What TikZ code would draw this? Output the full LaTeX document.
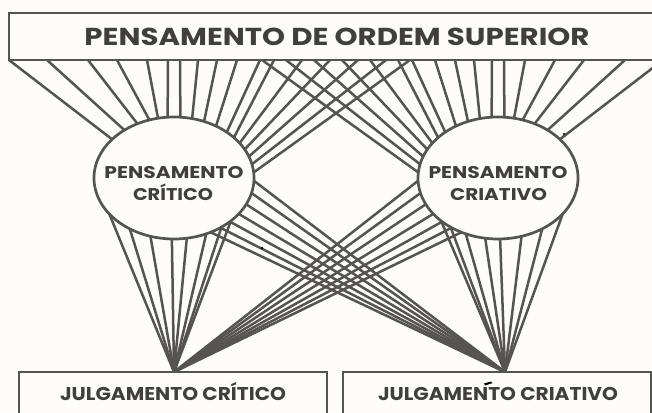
\documentclass[tikz,border=0pt]{standalone}
\usepackage{fontspec}
\setmainfont{Poppins}
\usepackage{graphicx}
\usetikzlibrary{shapes.geometric}
\pgfdeclarelayer{bgl}
\pgfdeclarelayer{wires}
\pgfsetlayers{bgl,wires,main}
\definecolor{ink}{HTML}{575352}
\definecolor{txt}{HTML}{423E3D}
\definecolor{paper}{HTML}{FDFCFA}
\newcommand\fitw[2]{\resizebox{#1}{\height}{#2}}
\begin{document}
\begin{tikzpicture}[x=1pt,y=-1pt,
  wire/.style={draw=ink, line width=2.5pt},
  oval/.style={ellipse, draw=ink, fill=paper, line width=2.7pt, minimum width=160pt, minimum height=122pt, inner sep=0pt, outer sep=0pt},
  panel/.style={rectangle, draw=ink, fill=paper, line width=2.8pt, inner sep=0pt, outer sep=0pt, anchor=north west},
  lbl/.style={text=txt, inner sep=0pt, anchor=base},
  big/.style={font=\bfseries\fontsize{24.5}{26}\selectfont},
  mid/.style={font=\bfseries\fontsize{17}{19}\selectfont},
  low/.style={font=\bfseries\fontsize{18.5}{20}\selectfont}]
\useasboundingbox (0,0) rectangle (652,412);
\begin{pgfonlayer}{bgl}
\fill[paper] (0,0) rectangle (652,412);
\end{pgfonlayer}
% boxes and ovals
\node[panel, minimum width=654pt, minimum height=47pt] (T) at (9,13) {};
\node[panel, minimum width=308pt, minimum height=60pt] (LB) at (19,372) {};
\node[panel, minimum width=308pt, minimum height=60pt] (RB) at (343,372) {};
\node[oval] (L) at (174,178) {};
\node[oval] (R) at (498,178) {};
\coordinate (A) at (174,372);
\coordinate (B) at (505,372);
% texts
\node[lbl, big] (title) at (337,45.7) {\fitw{505pt}{PENSAMENTO DE ORDEM SUPERIOR}};
\node[lbl, mid] (L1) at (174,178.5) {\fitw{139pt}{PENSAMENTO}};
\node[lbl, mid] (L2) at (173,200) {\fitw{80pt}{CRÍTICO}};
\node[lbl, mid] (R1) at (498,178.5) {\fitw{139pt}{PENSAMENTO}};
\node[lbl, mid] (R2) at (498.5,200) {\fitw{97pt}{CRIATIVO}};
\node[lbl, low] (J1) at (173,400) {\fitw{226pt}{JULGAMENTO CRÍTICO}};
\node[lbl, low] (J2) at (498,400) {\fitw{240pt}{JULGAMENTO CRIATIVO}};
% wires
\begin{pgfonlayer}{wires}
\foreach \x/\a [count=\i] in {9/148,47/136,88/124,117/113,147/105,168/96,180/84,198/73,217/62,237/51,260/41,274/34,302/28,330/22,358/16,386/10,410/4} {
  \pgfmathtruncatemacro\b{180-\a}
  \coordinate (ta\i) at (\x,60);
  \coordinate (tb\i) at ({672-\x},60);
  \draw[wire] (ta\i) -- (L.\a);
  \draw[wire] (tb\i) -- (R.\b);
}
\foreach \a in {-151,-131,-112,-92,-78,-60,-46,-37} {
  \pgfmathtruncatemacro\b{-180-\a}
  \draw[wire] (L.\a) -- (A);
  \draw[wire] (R.\b) -- (B);
}
\foreach \a in {-2,-11,-20,-29,-38,-47,-56} {
  \pgfmathtruncatemacro\b{-180-\a}
  \draw[wire] (L.\a) -- (B);
  \draw[wire] (R.\b) -- (A);
}
\end{pgfonlayer}
% small specks as in the scan
\fill[black] (262,248) circle (1.3pt);
\fill[black] (564,134) circle (1.2pt);
\fill[black] (484,383.5) -- (491,381.5) -- (492.5,383) -- (485,385.5) -- cycle;
\end{tikzpicture}
\end{document}
